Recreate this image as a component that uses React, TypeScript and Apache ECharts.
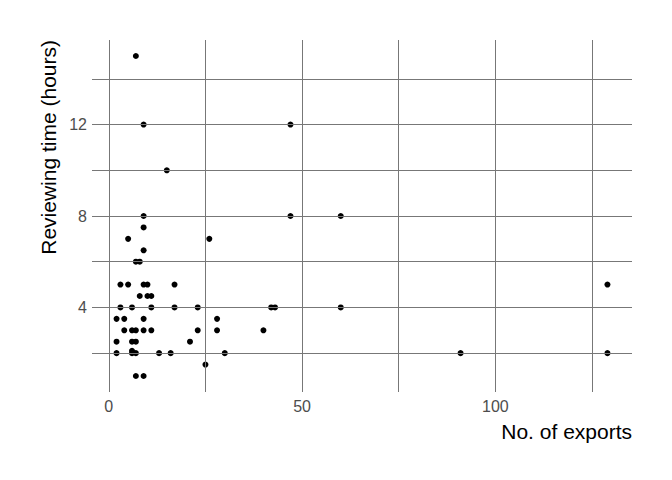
import React, { useEffect, useRef } from "react";
import * as echarts from "echarts";

const exportsX = [
  7, 9, 15, 47, 9, 47, 60, 9, 5, 26, 9, 7, 8,
  3, 5, 9, 10, 17, 129,
  8, 10, 11,
  3, 6, 11, 17, 23, 42, 43, 60,
  2, 4, 9, 28,
  4, 6, 7, 9, 11, 23, 28, 40,
  2, 6, 7, 21,
  2, 6, 6, 7, 13, 16, 30, 91, 129,
  25, 7, 9,
];
const hoursY = [
  15, 12, 10, 12, 8, 8, 8, 7.5, 7, 7, 6.5, 6, 6,
  5, 5, 5, 5, 5, 5,
  4.5, 4.5, 4.5,
  4, 4, 4, 4, 4, 4, 4, 4,
  3.5, 3.5, 3.5, 3.5,
  3, 3, 3, 3, 3, 3, 3, 3,
  2.5, 2.5, 2.5, 2.5,
  2, 2, 2.1, 2, 2, 2, 2, 2, 2,
  1.5, 1, 1,
];

const xGridValues = [0, 25, 50, 75, 100, 125];
const yGridValues = [2, 4, 6, 8, 10, 12, 14];
const xLabelValues = [0, 50, 100];
const yLabelValues = [4, 8, 12];

const xTitle = "No. of exports";
const yTitle = "Reviewing time (hours)";

export default function App() {
  const ref = useRef<HTMLDivElement>(null);
  useEffect(() => {
    if (!ref.current) return;
    const chart = echarts.init(ref.current, null, { renderer: "svg" });
    const gridColor = "#777777";
    const font = "Liberation Sans, Arial, sans-serif";
    chart.setOption({
      animation: false,
      backgroundColor: "#ffffff",
      grid: { left: 92, right: 40, top: 40, bottom: 88, containLabel: false },
      xAxis: {
        type: "value",
        min: -4.35,
        max: 135.35,
        axisLine: { show: false },
        axisTick: { show: false },
        splitLine: { show: false },
        axisLabel: {
          customValues: xLabelValues,
          color: "#4d4d4d",
          fontSize: 16,
          fontFamily: font,
          margin: 6,
        },
      },
      yAxis: {
        type: "value",
        min: 0.3,
        max: 15.7,
        axisLine: { show: false },
        axisTick: { show: false },
        splitLine: { show: false },
        axisLabel: {
          customValues: yLabelValues,
          color: "#4d4d4d",
          fontSize: 16,
          fontFamily: font,
          margin: 5,
        },
      },
      graphic: [
        {
          type: "text",
          x: 632,
          y: 431,
          style: {
            text: xTitle,
            fill: "#000",
            fontSize: 21,
            fontFamily: font,
            align: "right",
            verticalAlign: "middle",
          },
        },
        {
          type: "text",
          x: 48,
          y: 40,
          rotation: Math.PI / 2,
          style: {
            text: yTitle,
            fill: "#000",
            fontSize: 21,
            fontFamily: font,
            align: "right",
            verticalAlign: "middle",
          },
        },
      ],
      series: [
        {
          type: "scatter",
          data: [],
          z: 1,
          silent: true,
          markLine: {
            silent: true,
            symbol: ["none", "none"],
            label: { show: false },
            lineStyle: { color: gridColor, width: 1, type: "solid" },
            emphasis: { disabled: true },
            data: [
              ...yGridValues.map((v) => ({ yAxis: v })),
              ...xGridValues.map((v) => ({ xAxis: v })),
            ],
          },
        },
        {
          type: "scatter",
          z: 3,
          symbol: "circle",
          symbolSize: 6,
          itemStyle: { color: "#000000", opacity: 1 },
          data: exportsX.map((x, i) => [x, hoursY[i]]),
        },
      ],
    });
    return () => chart.dispose();
  }, []);
  return (
    <div
      ref={ref}
      style={{ position: "fixed", left: 0, top: 0, width: 672, height: 480 }}
    />
  );
}
